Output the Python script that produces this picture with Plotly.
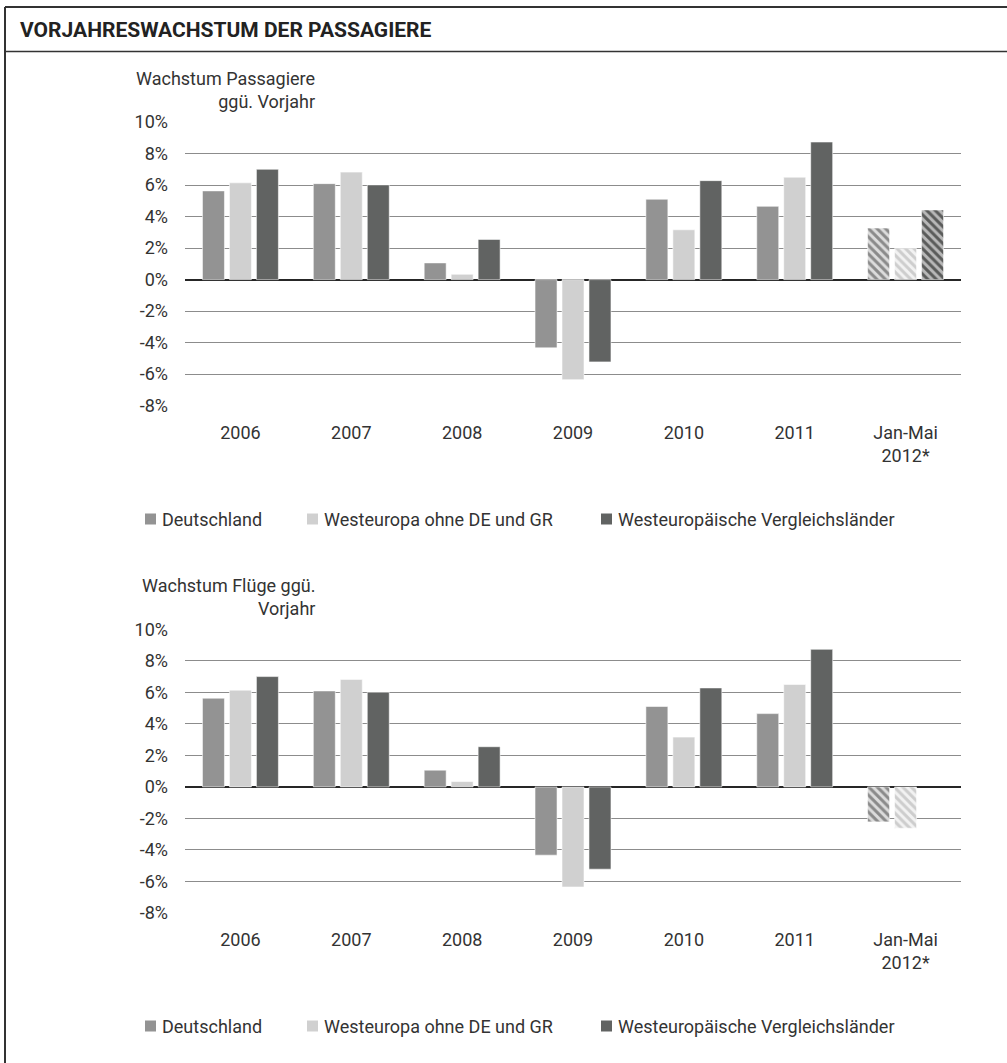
import plotly.graph_objects as go

# --- data -----------------------------------------------------------------
categories = ["2006", "2007", "2008", "2009", "2010", "2011", "Jan-Mai<br>2012*"]
series_names = ["Deutschland", "Westeuropa ohne DE und GR", "Westeuropäische Vergleichsländer"]

# growth of passengers vs. previous year, in %
pax_de = [5.63, 6.09, 1.06, -4.33, 5.10, 4.65, 3.27]
pax_we = [6.14, 6.82, 0.34, -6.35, 3.16, 6.50, 1.97]
pax_vg = [7.00, 6.01, 2.55, -5.22, 6.28, 8.73, 4.42]

# growth of flights vs. previous year, in %
flt_de = [5.63, 6.09, 1.06, -4.33, 5.10, 4.65, -2.22]
flt_we = [6.14, 6.82, 0.34, -6.35, 3.16, 6.50, -2.62]
flt_vg = [7.00, 6.01, 2.55, -5.22, 6.28, 8.73, None]

# the last category only covers part of the year (provisional)
provisional = [False, False, False, False, False, False, True]

y_tick_values = [-8, -6, -4, -2, 0, 2, 4, 6, 8, 10]
y_tick_labels = ["-8%", "-6%", "-4%", "-2%", "0%", "2%", "4%", "6%", "8%", "10%"]

# --- styling --------------------------------------------------------------
W, H = 1007, 1063
M_L, M_R, M_T, M_B = 185, 46, 122, 150
PW, PH = W - M_L - M_R, H - M_T - M_B

FONT = "Roboto, 'Noto Sans', sans-serif"
TEXT = "#333333"
solid = ["#939393", "#d0d0d0", "#616362"]
stripe_fg = ["#8a8a8a", "#cdcdcd", "#5a5b5a"]
stripe_bg = ["#dcdcdc", "#f2f2f2", "#b8b8b8"]


def px_x(px):
    return (px - M_L) / PW


def px_y(py):
    return (H - M_B - py) / PH


def bar_trace(name, values, idx, yaxis):
    shapes = ["\\" if p else "" for p in provisional]
    return go.Bar(
        x=categories,
        y=values,
        name=name,
        yaxis=yaxis,
        xaxis="x" if yaxis == "y" else "x2",
        marker=dict(
            color=solid[idx],
            line=dict(color="rgba(255,255,255,0.7)", width=0.8),
            pattern=dict(
                shape=shapes,
                fgcolor=stripe_fg[idx],
                bgcolor=stripe_bg[idx],
                size=6,
                solidity=0.5,
                fillmode="replace",
            ),
        ),
        showlegend=False,
        hovertemplate="%{x}: %{y:.1f}%<extra>" + name + "</extra>",
    )


fig = go.Figure()
for i, vals in enumerate([pax_de, pax_we, pax_vg]):
    fig.add_trace(bar_trace(series_names[i], vals, i, "y"))
for i, vals in enumerate([flt_de, flt_we, flt_vg]):
    fig.add_trace(bar_trace(series_names[i], vals, i, "y2"))

top_domain = [px_y(405.7), 1.0]
bot_domain = [0.0, px_y(629.3)]

yaxis_common = dict(
    range=[-8, 10],
    tickvals=y_tick_values,
    ticktext=y_tick_labels,
    showgrid=True,
    gridcolor="#8c8c8c",
    gridwidth=1,
    zeroline=True,
    zerolinecolor="#262626",
    zerolinewidth=1.5,
    showline=False,
    ticks="",
    ticklabelstandoff=16,
    tickfont=dict(family=FONT, size=18, color=TEXT),
    fixedrange=True,
)
xaxis_common = dict(
    type="category",
    showgrid=False,
    showline=False,
    zeroline=False,
    ticks="",
    ticklabelstandoff=14,
    tickfont=dict(family=FONT, size=18, color=TEXT),
    fixedrange=True,
)

fig.update_layout(
    width=W,
    height=H,
    autosize=False,
    margin=dict(l=M_L, r=M_R, t=M_T, b=M_B, pad=0),
    paper_bgcolor="white",
    plot_bgcolor="white",
    barmode="group",
    bargap=0.27,
    bargroupgap=0.185,
    font=dict(family=FONT, size=18, color=TEXT),
    showlegend=False,
    xaxis=dict(**xaxis_common, anchor="y"),
    yaxis=dict(**yaxis_common, domain=top_domain, anchor="x"),
    xaxis2=dict(**xaxis_common, anchor="y2"),
    yaxis2=dict(**yaxis_common, domain=bot_domain, anchor="x2"),
)

annotations = []
shapes = []

# header frame
line_style = dict(color="#333333", width=2)
shapes.append(dict(type="line", xref="paper", yref="paper",
                   x0=px_x(5), x1=px_x(5), y0=px_y(7), y1=px_y(H),
                   line=line_style))
shapes.append(dict(type="line", xref="paper", yref="paper",
                   x0=px_x(5), x1=px_x(W), y0=px_y(7), y1=px_y(7),
                   line=line_style))
shapes.append(dict(type="line", xref="paper", yref="paper",
                   x0=px_x(5), x1=px_x(W), y0=px_y(51.5), y1=px_y(51.5),
                   line=dict(color="#333333", width=1.5)))

annotations.append(dict(
    text="<b>VORJAHRESWACHSTUM DER PASSAGIERE</b>",
    xref="paper", yref="paper", x=px_x(18), y=px_y(30),
    xanchor="left", yanchor="middle", showarrow=False,
    font=dict(family=FONT, size=21, color="#222222"),
))

# axis captions
for caption, cy in [("Wachstum Passagiere<br>ggü. Vorjahr", 90),
                    ("Wachstum Flüge ggü.<br>Vorjahr", 597)]:
    annotations.append(dict(
        text=caption, xref="paper", yref="paper",
        x=px_x(317), y=px_y(cy), xanchor="right", yanchor="middle",
        align="right", showarrow=False,
        font=dict(family=FONT, size=18, color=TEXT),
    ))

# legends below each chart
legend_swatch_x = [145, 307, 601]
for ly in [519, 1026]:
    for i, name in enumerate(series_names):
        sx = legend_swatch_x[i]
        shapes.append(dict(
            type="rect", xref="paper", yref="paper",
            x0=px_x(sx), x1=px_x(sx + 11), y0=px_y(ly - 5.5), y1=px_y(ly + 5.5),
            fillcolor=solid[i], line=dict(width=0),
        ))
        annotations.append(dict(
            text=name, xref="paper", yref="paper",
            x=px_x(sx + 15), y=px_y(ly), xanchor="left", yanchor="middle",
            showarrow=False, font=dict(family=FONT, size=18, color=TEXT),
        ))

fig.update_layout(annotations=annotations, shapes=shapes)

fig.write_html("out.html")
